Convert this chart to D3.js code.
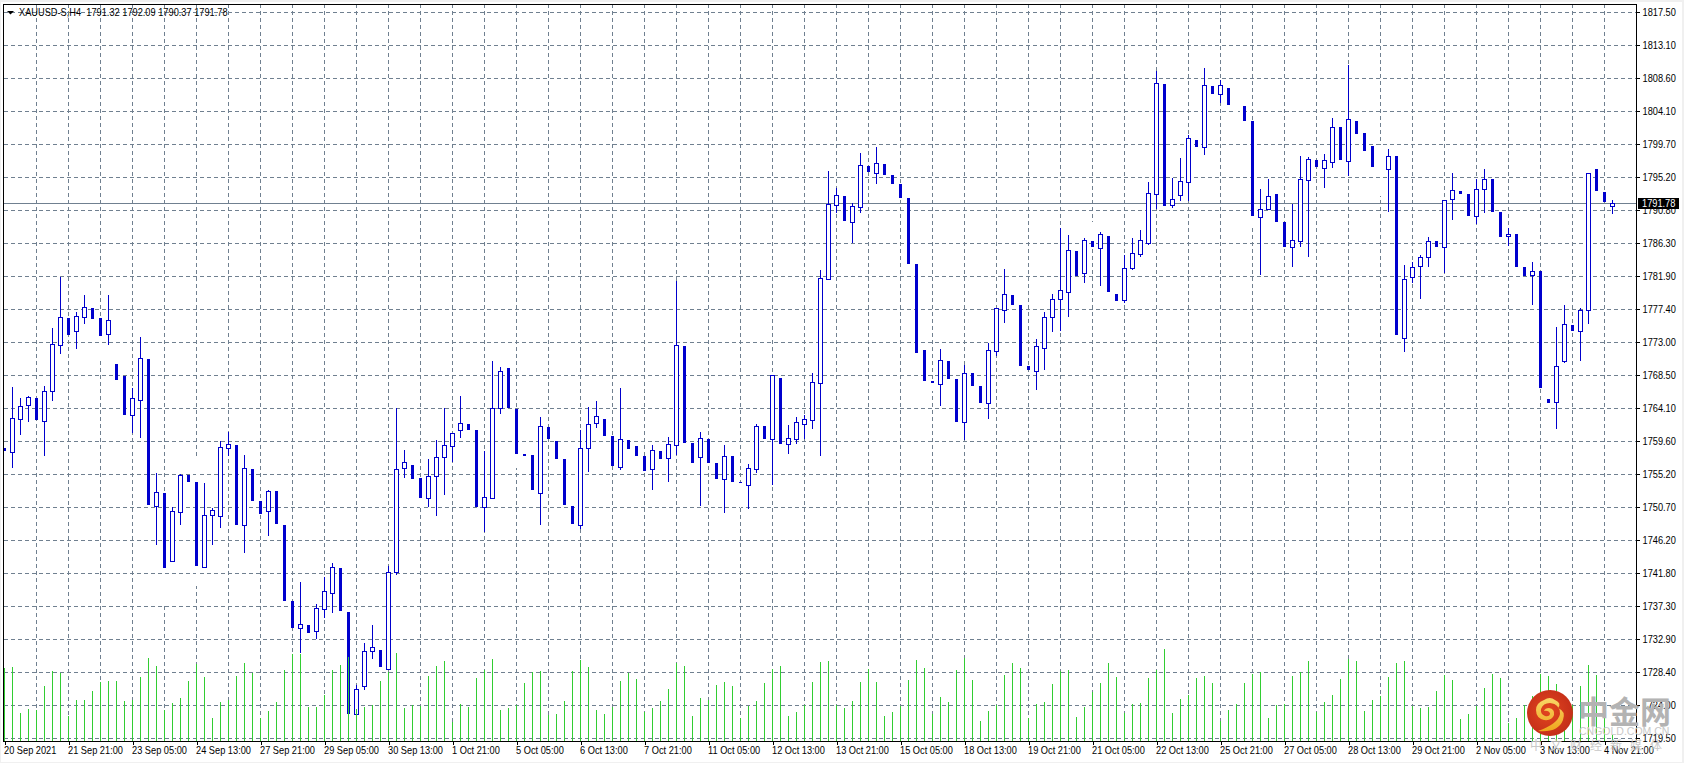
<!DOCTYPE html>
<html><head><meta charset="utf-8">
<script src="https://cdn.jsdelivr.net/npm/d3@7"></script>
<style>
html,body{margin:0;padding:0;background:#f0f0f0;overflow:hidden}
svg{display:block}
text{font-family:"Liberation Sans",sans-serif;font-size:11px}
</style></head><body>
<svg id="c" width="1684" height="763"></svg>
<script>
const opens=[
1758.64,1758.15,1762.60,1764.49,1765.39,1762.33,1766.38,1772.59,1776.19,1774.48,
1776.37,1777.54,1776.19,1774.08,1769.98,1768.36,1763.14,1765.17,1770.66,1750.86,
1752.57,1743.43,1750.05,1755.00,1754.05,1742.62,1749.64,1749.51,1758.69,1759.05,
1748.29,1755.81,1751.49,1750.18,1752.84,1748.25,1737.99,1734.40,1734.76,1733.99,
1736.96,1739.12,1742.45,1736.51,1722.79,1726.57,1731.20,1731.38,1728.86,1741.95,
1755.90,1756.35,1754.59,1751.94,1754.91,1757.38,1758.96,1761.03,1761.88,1761.07,
1750.63,1751.94,1764.00,1769.44,1763.91,1757.83,1757.70,1752.61,1761.48,1759.59,
1757.16,1750.81,1748.20,1758.60,1761.97,1762.56,1760.26,1756.12,1759.72,1758.91,
1757.56,1755.85,1758.24,1757.34,1759.09,1772.41,1759.32,1757.47,1759.86,1756.62,
1754.50,1757.56,1754.10,1753.69,1755.85,1761.61,1759.90,1768.09,1759.23,1759.90,
1761.93,1762.47,1767.46,1781.50,1791.49,1792.66,1789.20,1791.22,1796.71,1795.81,
1796.98,1795.50,1794.28,1792.39,1783.48,1771.87,1767.68,1767.33,1770.39,1767.96,
1762.20,1768.77,1767.01,1764.76,1771.78,1777.32,1779.30,1777.95,1769.71,1769.08,
1772.19,1776.37,1778.80,1779.75,1785.24,1782.22,1786.59,1785.69,1787.26,1779.43,
1778.67,1782.99,1784.88,1786.36,1792.98,1807.78,1791.49,1792.84,1794.60,1800.22,
1799.32,1807.51,1806.48,1807.24,1804.09,1804.81,1802.79,1789.78,1790.95,1792.93,
1789.15,1785.82,1786.63,1794.87,1797.52,1796.49,1797.30,1801.98,1797.43,1802.79,
1801.17,1799.41,1796.00,1796.26,1798.06,1773.45,1781.68,1783.17,1784.38,1786.59,
1785.73,1792.21,1793.34,1792.93,1790.01,1793.56,1794.96,1790.50,1787.22,1787.53,
1783.08,1781.95,1782.54,1765.26,1764.90,1770.34,1775.25,1774.39,1777.23,1796.31,
1793.20,1791.32];
const highs=[
1758.64,1766.92,1765.39,1765.66,1765.39,1767.01,1774.84,1781.77,1776.19,1777.05,
1779.30,1777.54,1776.19,1779.30,1769.98,1768.36,1766.70,1773.63,1770.66,1755.22,
1752.57,1750.63,1755.09,1755.00,1757.47,1753.92,1750.50,1759.59,1760.80,1759.05,
1757.70,1755.81,1751.49,1752.97,1752.84,1748.25,1737.99,1740.56,1734.76,1737.55,
1741.28,1743.08,1742.45,1736.51,1726.66,1732.28,1734.76,1731.38,1742.72,1764.00,
1758.33,1756.35,1754.59,1757.16,1759.72,1764.00,1760.62,1765.66,1761.88,1761.07,
1758.24,1770.39,1769.53,1769.44,1763.91,1757.83,1757.70,1762.78,1761.48,1759.59,
1757.16,1750.81,1761.07,1764.18,1764.99,1762.56,1760.26,1766.74,1759.72,1758.91,
1757.56,1759.05,1758.24,1760.13,1781.23,1772.41,1759.32,1760.80,1759.86,1756.62,
1759.05,1757.56,1754.10,1756.48,1761.88,1761.61,1768.45,1768.09,1761.75,1762.83,
1763.10,1768.77,1782.67,1796.04,1793.74,1792.66,1791.67,1798.47,1796.71,1799.28,
1796.98,1795.50,1794.28,1792.39,1783.48,1771.87,1767.68,1772.01,1770.39,1767.96,
1769.85,1768.77,1767.01,1772.82,1777.50,1782.81,1779.30,1777.95,1769.71,1773.36,
1777.00,1779.43,1788.34,1787.40,1785.24,1786.99,1789.20,1787.80,1787.26,1779.43,
1784.70,1786.99,1788.07,1794.55,1809.58,1807.78,1795.09,1797.79,1800.90,1800.22,
1809.94,1807.51,1808.32,1807.24,1804.30,1804.81,1802.79,1793.61,1794.96,1792.93,
1789.15,1791.58,1798.06,1797.93,1797.52,1798.33,1803.19,1801.98,1810.39,1802.79,
1801.17,1799.41,1799.60,1799.01,1798.06,1783.35,1783.71,1784.70,1787.13,1786.59,
1792.08,1795.77,1793.34,1792.93,1794.96,1796.31,1794.96,1790.50,1788.34,1787.53,
1783.08,1783.75,1782.54,1765.26,1774.98,1777.95,1775.25,1777.54,1795.72,1796.31,
1793.20,1792.09];
const lows=[
1758.37,1756.12,1760.53,1762.29,1762.56,1757.70,1765.12,1771.47,1774.03,1772.14,
1775.52,1776.19,1770.75,1772.68,1767.96,1763.23,1760.76,1760.13,1751.08,1745.68,
1737.68,1743.43,1748.38,1754.19,1740.16,1742.62,1745.68,1747.98,1757.70,1748.38,
1744.60,1751.62,1749.87,1746.90,1748.52,1738.18,1734.49,1731.11,1733.81,1733.00,
1735.88,1736.51,1736.78,1722.88,1722.79,1726.12,1730.30,1729.22,1728.86,1741.63,
1754.73,1754.59,1750.72,1750.81,1749.60,1752.43,1756.84,1760.13,1761.21,1750.81,
1747.44,1751.94,1763.37,1764.18,1756.12,1757.70,1753.11,1748.38,1759.99,1757.29,
1751.08,1748.52,1747.80,1755.54,1761.52,1760.40,1756.35,1755.85,1758.64,1757.70,
1755.67,1753.11,1757.29,1754.19,1757.83,1759.45,1756.75,1750.95,1756.75,1754.59,
1750.00,1754.19,1750.72,1750.54,1755.40,1759.99,1753.78,1759.32,1757.97,1759.32,
1759.95,1761.34,1757.70,1781.50,1790.50,1789.42,1786.45,1790.50,1796.04,1794.42,
1795.63,1794.42,1792.53,1783.62,1771.60,1767.82,1766.47,1764.45,1768.09,1762.29,
1759.90,1767.15,1764.85,1762.69,1771.24,1775.65,1778.08,1769.85,1769.31,1766.61,
1769.31,1774.44,1774.57,1776.46,1782.00,1781.05,1785.91,1780.65,1779.84,1778.62,
1778.35,1782.81,1784.56,1786.23,1791.00,1791.45,1791.18,1792.12,1792.12,1799.41,
1798.33,1806.57,1805.31,1805.08,1803.90,1802.92,1788.52,1782.13,1790.95,1789.29,
1785.91,1783.21,1785.91,1784.56,1796.71,1793.88,1796.58,1797.66,1795.50,1801.17,
1798.87,1796.71,1792.80,1790.64,1774.03,1771.74,1781.01,1778.89,1783.21,1785.91,
1782.40,1789.56,1793.07,1790.10,1789.02,1790.50,1790.64,1787.26,1786.05,1783.21,
1782.00,1778.08,1766.88,1764.85,1761.34,1770.21,1774.57,1770.52,1775.52,1793.47,
1791.99,1790.37];
const closes=[
1758.37,1762.65,1764.27,1765.48,1762.56,1766.29,1772.64,1776.28,1774.03,1776.42,
1777.63,1776.19,1773.90,1775.88,1767.96,1763.23,1765.35,1770.75,1751.08,1752.66,
1742.58,1750.09,1754.95,1754.19,1742.85,1749.55,1750.23,1758.73,1759.14,1748.38,
1755.90,1751.62,1749.87,1752.79,1748.52,1738.18,1734.49,1734.85,1733.81,1737.01,
1739.30,1742.54,1736.78,1722.88,1726.07,1731.20,1731.74,1729.22,1741.87,1755.76,
1756.71,1754.59,1752.03,1754.82,1757.38,1759.00,1760.62,1761.97,1761.21,1750.81,
1751.98,1764.00,1768.99,1764.18,1757.97,1757.70,1753.11,1761.57,1759.99,1757.29,
1751.08,1748.52,1758.60,1761.84,1762.92,1760.40,1756.35,1759.81,1758.64,1757.70,
1755.67,1758.33,1757.29,1759.14,1772.50,1759.45,1756.75,1759.95,1756.75,1754.59,
1757.52,1754.19,1754.00,1755.90,1761.57,1759.99,1768.45,1759.32,1759.95,1762.11,
1762.51,1767.51,1781.55,1791.58,1792.75,1789.42,1791.27,1796.80,1796.04,1797.07,
1795.63,1794.42,1792.53,1783.62,1771.60,1767.82,1767.59,1770.48,1768.09,1762.29,
1768.72,1767.15,1764.85,1771.83,1777.50,1779.39,1778.08,1769.85,1769.31,1772.37,
1776.28,1778.71,1779.93,1785.33,1782.00,1786.68,1785.91,1787.49,1779.84,1778.62,
1782.90,1784.92,1786.68,1793.02,1807.87,1791.45,1792.21,1794.64,1800.45,1799.41,
1807.60,1806.57,1807.60,1805.08,1804.09,1802.92,1790.10,1790.86,1792.62,1789.29,
1785.91,1786.68,1794.91,1797.61,1796.71,1797.48,1801.93,1797.66,1803.01,1801.17,
1798.87,1796.71,1796.00,1798.02,1774.03,1781.41,1783.03,1784.38,1786.54,1785.91,
1792.08,1793.43,1793.07,1790.10,1793.56,1794.91,1790.64,1787.26,1787.49,1783.21,
1782.00,1782.49,1766.88,1764.85,1769.67,1775.34,1774.57,1777.23,1795.72,1793.47,
1791.99,1791.78];
const volumes=[
73,74,28,32,31,55,70,68,25,41,
41,50,59,60,60,40,41,64,83,75,
31,38,43,60,77,64,23,39,41,65,
78,68,23,30,39,71,87,87,34,34,
46,71,76,84,32,34,36,60,69,88,
33,36,35,65,75,80,19,37,34,63,
71,82,31,33,36,58,69,70,26,27,
40,70,81,74,31,27,34,60,68,62,
29,33,40,52,78,75,25,43,41,56,
59,55,23,35,40,58,72,75,25,29,
36,59,79,80,36,33,40,59,72,59,
25,29,35,61,81,73,27,44,39,71,
83,61,20,30,36,66,78,73,23,37,
39,57,70,71,24,34,49,58,78,64,
28,37,38,63,71,92,28,42,46,63,
65,58,20,31,37,58,67,69,23,36,
37,65,69,80,29,39,46,62,82,80,
30,41,45,64,78,80,35,33,34,50,
66,61,22,27,35,53,67,63,18,23,
36,45,67,65,57,30,36,55,76,66,
23,6];
const priceTicks=[1817.50,1813.10,1808.60,1804.10,1799.70,1795.20,1790.80,1786.30,1781.90,1777.40,1773.00,1768.50,1764.10,1759.60,1755.20,1750.70,1746.20,1741.80,1737.30,1732.90,1728.40,1724.00,1719.50];
const timeLabels=["20 Sep 2021","21 Sep 21:00","23 Sep 05:00","24 Sep 13:00","27 Sep 21:00","29 Sep 05:00","30 Sep 13:00","1 Oct 21:00","5 Oct 05:00","6 Oct 13:00","7 Oct 21:00","11 Oct 05:00","12 Oct 13:00","13 Oct 21:00","15 Oct 05:00","18 Oct 13:00","19 Oct 21:00","21 Oct 05:00","22 Oct 13:00","25 Oct 21:00","27 Oct 05:00","28 Oct 13:00","29 Oct 21:00","2 Nov 05:00","3 Nov 13:00","4 Nov 21:00"];
const lastPrice=1791.78;
const header="XAUUSD-S,H4  1791.32 1792.09 1790.37 1791.78";

const W=1684,H=763,L=4,T=4,R=1636,B=741;
const UP="#0000cd",VOL="#32cd32",GRID="#708090";
const x=d3.scaleLinear().domain([0,201]).range([4.5,1612.5]);
const y=d3.scaleLinear().domain([1719.5,1817.5]).range([738,12]);
const v=d3.scaleLinear().domain([0,100]).range([B,B-100]);
const ry=p=>Math.round(y(p));
const svg=d3.select("#c");
svg.append("rect").attr("width",W).attr("height",H).attr("fill","#f0f0f0");
svg.append("rect").attr("x",1).attr("y",2).attr("width",W-3).attr("height",H-3).attr("fill","#fff");
const defs=svg.append("defs");
defs.append("clipPath").attr("id","plot").append("rect").attr("x",L).attr("y",T).attr("width",R-L).attr("height",B-T);
const plot=svg.append("g").attr("clip-path","url(#plot)").attr("shape-rendering","crispEdges");

// grid
const vGrid=d3.range(4,202,4);
plot.append("g").selectAll("line").data(priceTicks).join("line")
  .attr("x1",L).attr("x2",R).attr("y1",d=>ry(d)+.5).attr("y2",d=>ry(d)+.5)
  .attr("stroke",GRID).attr("stroke-dasharray","4,3");
plot.append("g").selectAll("line").data(vGrid).join("line")
  .attr("x1",d=>x(d)).attr("x2",d=>x(d)).attr("y1",T).attr("y2",B)
  .attr("stroke",GRID).attr("stroke-dasharray","4,3");
// last price line
plot.append("line").attr("x1",L).attr("x2",R).attr("y1",ry(lastPrice)+.5).attr("y2",ry(lastPrice)+.5).attr("stroke",GRID);

// candles
const idx=d3.range(opens.length);
const bull=i=>closes[i]>opens[i];
plot.append("g").selectAll("line").data(idx).join("line")
  .attr("x1",i=>x(i)).attr("x2",i=>x(i))
  .attr("y1",i=>ry(highs[i])).attr("y2",i=>ry(lows[i])+1)
  .attr("stroke",i=>bull(i)?UP:"#fff");
plot.append("g").selectAll("rect").data(idx.filter(i=>!bull(i))).join("rect")
  .attr("x",i=>x(i)-1.5).attr("width",3)
  .attr("y",i=>ry(opens[i])).attr("height",i=>Math.max(1,ry(closes[i])-ry(opens[i])+1))
  .attr("fill",i=>closes[i]===opens[i]?"#fff":UP);
plot.append("g").selectAll("rect").data(idx.filter(bull)).join("rect")
  .attr("x",i=>x(i)-2).attr("width",4)
  .attr("y",i=>ry(closes[i])+.5).attr("height",i=>Math.max(1,ry(opens[i])-ry(closes[i])))
  .attr("fill","#fff").attr("stroke",UP);
// volumes
plot.append("g").selectAll("line").data(idx).join("line")
  .attr("x1",i=>x(i)).attr("x2",i=>x(i))
  .attr("y1",B).attr("y2",i=>v(volumes[i]))
  .attr("stroke",VOL);

// frame
const frame=svg.append("g").attr("shape-rendering","crispEdges").attr("stroke","#000");
frame.append("line").attr("x1",L-.5).attr("x2",L-.5).attr("y1",T).attr("y2",B+1);
frame.append("line").attr("x1",L-1).attr("x2",R+1).attr("y1",T+.5).attr("y2",T+.5);

// price axis
const yAxis=d3.axisRight(y).tickValues(priceTicks).tickFormat(d3.format(".2f")).tickSize(3).tickPadding(3);
const ya=svg.append("g").attr("transform",`translate(${R+.5},0)`).call(yAxis);
ya.select(".domain").attr("d",`M0,${T}V${B+1}`).attr("stroke","#000").attr("shape-rendering","crispEdges");
ya.selectAll(".tick").attr("transform",d=>`translate(0,${ry(d)+.5})`);
ya.selectAll(".tick line").attr("shape-rendering","crispEdges").attr("stroke","#000");
ya.selectAll(".tick text").attr("fill","#000");
ya.attr("font-family",null).attr("font-size",null);

// time axis
const timeTicks=timeLabels.map((_,k)=>k*8);
const xAxis=d3.axisBottom(x).tickValues(timeTicks).tickFormat(d=>timeLabels[d/8]).tickSize(3).tickPadding(3);
const xa=svg.append("g").attr("transform",`translate(0,${B+.5})`).call(xAxis);
xa.select(".domain").attr("d",`M${L-1},0H${R+1}`).attr("stroke","#000").attr("shape-rendering","crispEdges");
xa.selectAll(".tick line").attr("shape-rendering","crispEdges").attr("stroke","#000");
xa.selectAll(".tick text").attr("text-anchor","start").attr("x",-1).attr("y",5).attr("dy","0.71em").attr("fill","#000");
xa.attr("font-family",null).attr("font-size",null);

// last price tag
const ly=ry(lastPrice);
svg.append("rect").attr("x",1638).attr("y",ly-5).attr("width",41).attr("height",11).attr("fill","#000");
svg.append("text").attr("x",1642).attr("y",ly+4).attr("fill","#fff").text(d3.format(".2f")(lastPrice));

// header
svg.append("path").attr("d","M7,11H14L10.5,14.5Z").attr("fill","#000");
svg.append("text").attr("x",19).attr("y",16).attr("fill","#000").attr("xml:space","preserve").style("white-space","pre").text(header);

// terminal font is narrower than any installed one: condense the glyphs
svg.selectAll("text").each(function(){
  const w=this.getComputedTextLength();
  d3.select(this).attr("textLength",(w*0.84).toFixed(1)).attr("lengthAdjust","spacingAndGlyphs");
});

// watermark
const grad=defs.append("radialGradient").attr("id","lg").attr("cx","45%").attr("cy","45%").attr("r","60%");
grad.append("stop").attr("offset","0%").attr("stop-color","#e2451f");
grad.append("stop").attr("offset","100%").attr("stop-color","#c22d18");
const yg=defs.append("linearGradient").attr("id","yg").attr("x1",0).attr("y1",0).attr("x2",0).attr("y2",1);
yg.append("stop").attr("offset","0%").attr("stop-color","#f8d668");
yg.append("stop").attr("offset","100%").attr("stop-color","#efa51c");
const wm=svg.append("g");
wm.append("circle").attr("cx",1550).attr("cy",713).attr("r",23).attr("fill","url(#lg)");
wm.append("path").attr("fill","url(#yg)").attr("d","M1538,731 Q1558,733 1563,720 Q1566,711 1558,708 Q1562,703 1555,700 Q1550,696 1544,700 Q1536,703 1536,710 Q1536,718 1544,720 Q1552,721 1554,715 Q1555,709 1549,708 Q1545,708 1544,711 Q1548,710 1550,713 Q1550,717 1545,716 Q1540,714 1541,709 Q1543,703 1550,703 Q1560,704 1560,714 Q1558,724 1538,731Z");
wm.append("text").attr("x",1578).attr("y",723).text("中金网").style("font-family","'Noto Sans CJK SC'").style("font-size","31px").style("font-weight","700").attr("fill","#b3b3b3");
wm.append("text").attr("x",1579).attr("y",735).text("CNGOLD.COM.CN").style("font-family","'Liberation Sans'").style("font-size","10.5px").attr("fill","#c8c8c8");
wm.append("text").attr("x",1530).attr("y",750).text("中文财经新媒体").style("font-family","'Noto Sans CJK SC'").style("font-size","12px").style("letter-spacing","8px").attr("fill","#c8c8c8");
</script>
</body></html>
